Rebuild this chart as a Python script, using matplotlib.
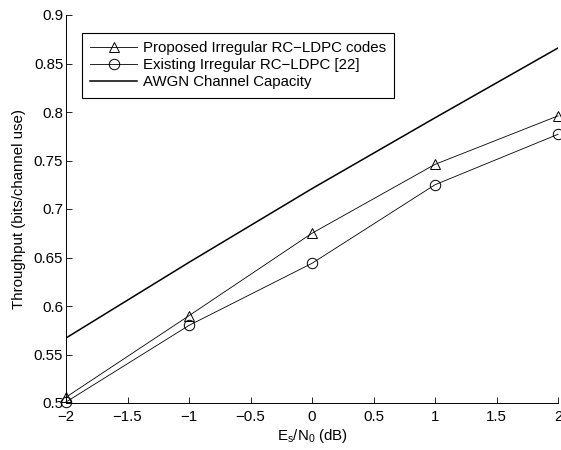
import matplotlib
matplotlib.use("Agg")
import matplotlib.pyplot as plt

plt.rcParams['font.family'] = ['Liberation Sans', 'DejaVu Sans']
plt.rcParams['mathtext.fontset'] = 'custom'
plt.rcParams['mathtext.rm'] = 'Liberation Sans'

snr = [-2, -1, 0, 1, 2]
proposed = [0.506, 0.590, 0.675, 0.746, 0.796]
existing = [0.501, 0.580, 0.644, 0.725, 0.777]
capacity = [0.567, 0.645, 0.721, 0.794, 0.866]

xticks = [-2, -1.5, -1, -0.5, 0, 0.5, 1, 1.5, 2]
xticklabels = ['\u22122', '\u22121.5', '\u22121', '\u22120.5', '0', '0.5', '1', '1.5', '2']
yticks = [0.5, 0.55, 0.6, 0.65, 0.7, 0.75, 0.8, 0.85, 0.9]
yticklabels = ['0.5', '0.55', '0.6', '0.65', '0.7', '0.75', '0.8', '0.85', '0.9']

FS = 10.8

fig = plt.figure(figsize=(5.61, 4.5), dpi=100)
ax = fig.add_axes([66/561, 47/450, 492/561, 388/450])

ax.plot(snr, proposed, color='black', lw=0.6, marker='^', ms=7.5, mfc='none', mec='black', mew=0.7,
        clip_on=False, label='Proposed Irregular RC\u2212LDPC codes')
ax.plot(snr, existing, color='black', lw=0.6, marker='o', ms=7.5, mfc='none', mec='black', mew=0.7,
        clip_on=False, label='Existing Irregular RC\u2212LDPC [22]')
ax.plot(snr, capacity, color='black', lw=1.1, label='AWGN Channel Capacity')

ax.set_xlim(-2, 2)
ax.set_ylim(0.5, 0.9)
ax.set_xticks(xticks)
ax.set_xticklabels(xticklabels)
ax.set_yticks(yticks)
ax.set_yticklabels(yticklabels)
ax.tick_params(direction='in', labelsize=FS, length=4, width=0.6)
ax.tick_params(axis='x', pad=5)
ax.tick_params(axis='y', pad=2)
for s in ['top', 'right']:
    ax.spines[s].set_visible(False)
for s in ['left', 'bottom']:
    ax.spines[s].set_linewidth(0.7)

ax.set_xlabel(r'E$_\mathregular{s}$/N$_\mathregular{0}$ (dB)', fontsize=FS, labelpad=2)
ax.set_ylabel('Throughput (bits/channel use)', fontsize=FS, labelpad=6)

leg = ax.legend(loc='upper left', bbox_to_anchor=(16/492, 1 - 18/388), fontsize=FS, handlelength=3.1,
                fancybox=False, framealpha=1, edgecolor='black', borderpad=0.55, labelspacing=0.2,
                handletextpad=0.4, borderaxespad=0)
leg.get_frame().set_linewidth(0.8)

fig.savefig('out.png', dpi=100)
